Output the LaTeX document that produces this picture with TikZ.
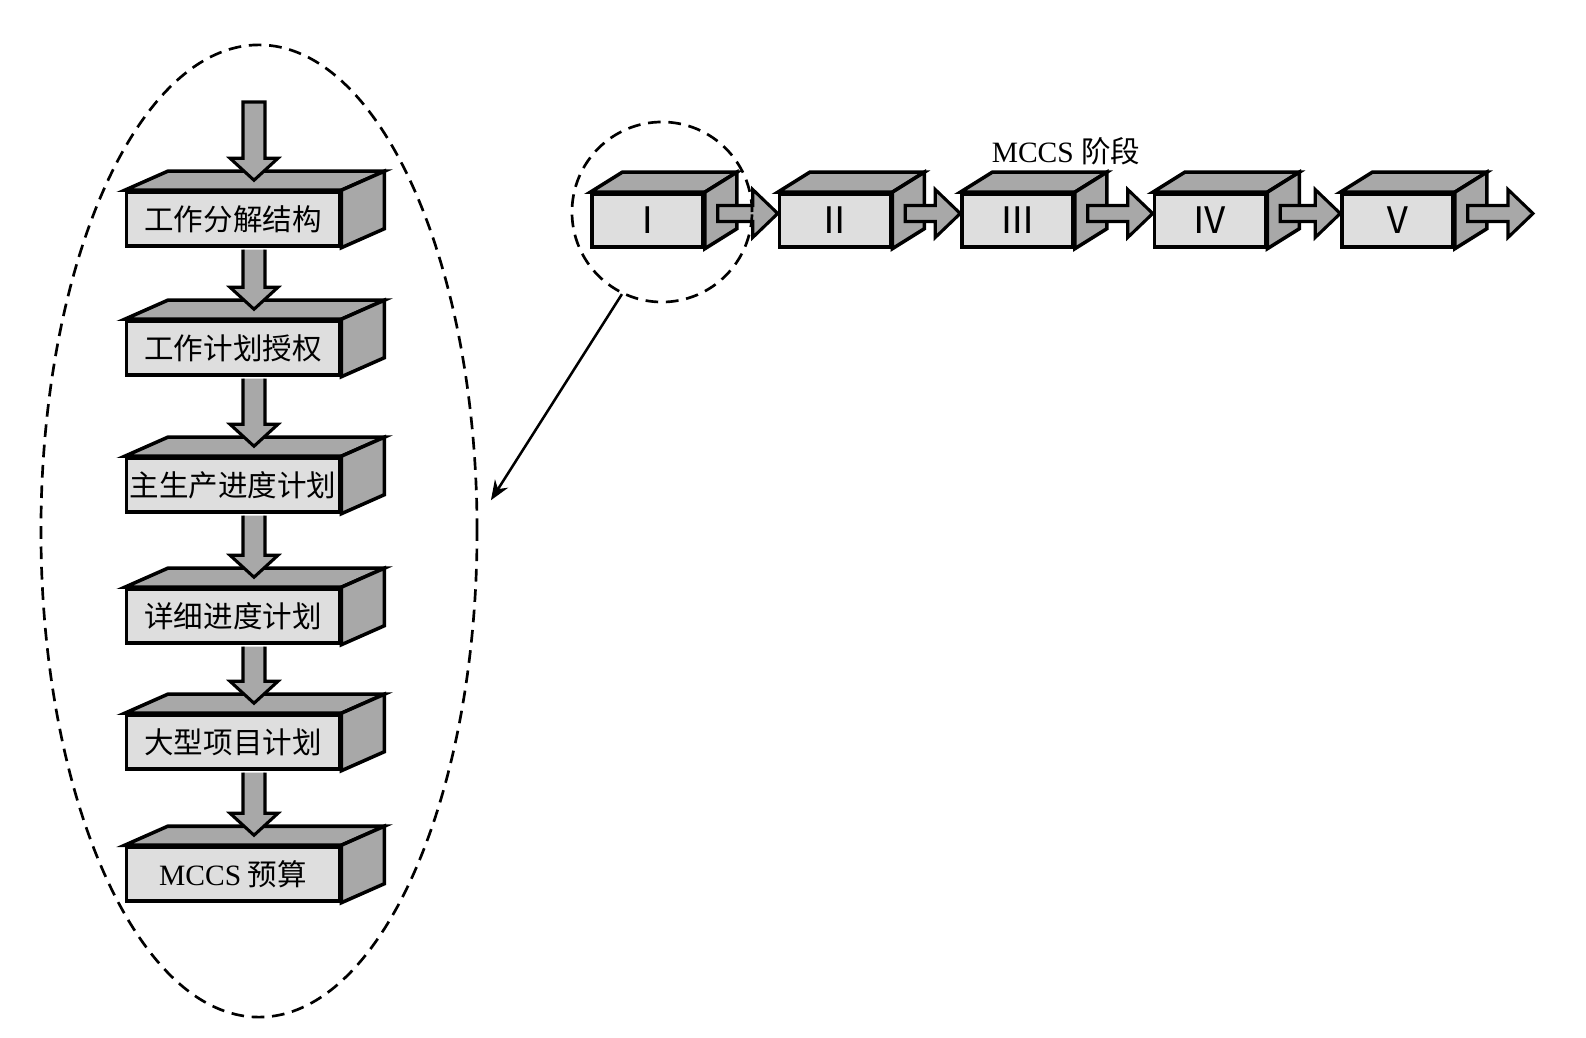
\documentclass[tikz,border=0pt]{standalone}
\usepackage{fontspec}
\setmainfont{Liberation Serif}
\newfontfamily\cjk{Noto Sans CJK SC}
\usetikzlibrary{positioning,shapes,calc,arrows.meta}

\tikzset{
  front/.style={draw, line width=2.5pt, fill=black!13, inner sep=0pt, line join=miter},
  leftbox/.style={front, minimum width=5.325cm, minimum height=1.35cm,
    font=\cjk\fontsize{21}{21}\selectfont},
  rightbox/.style={front, minimum width=2.775cm, minimum height=1.325cm,
    font=\cjk\fontsize{26}{26}\selectfont},
  face/.style={draw, line width=2.5pt, fill=black!34, line join=miter},
  blk/.style={draw, line width=2.2pt, fill=black!34, line join=miter},
  ring/.style={draw, dash pattern=on 9pt off 5.5pt, line width=1.9pt, inner sep=0pt}
}

% block arrows: #1 start coordinate, #2 tip coordinate
\newcommand\vblk[2]{\filldraw[blk] ($(#2|-#1)+(-11,0)$) -- ($(#2)+(-11,-22)$)
  -- ($(#2)+(-24,-22)$) -- (#2) -- ($(#2)+(24,-22)$) -- ($(#2)+(11,-22)$)
  -- ($(#2|-#1)+(11,0)$);}
\newcommand\hblk[2]{\filldraw[blk] ($(#1|-#2)+(0,-8)$) -- ($(#2)+(-25,-8)$)
  -- ($(#2)+(-25,-24)$) -- (#2) -- ($(#2)+(-25,24)$) -- ($(#2)+(-25,8)$)
  -- ($(#1|-#2)+(0,8)$) -- cycle;}

\begin{document}
\begin{tikzpicture}[x=0.025cm,y=-0.025cm]
  \useasboundingbox (0,0) rectangle (1586,1038);

  % left column
  \node[leftbox] (w1) at (233,219) {工作分解结构};
  \node[leftbox] (w2) at (233,348) {工作计划授权};
  \node[leftbox] (w3) at (233,485) {主生产进度计划};
  \node[leftbox] (w4) at (233,616) {详细进度计划};
  \node[leftbox] (w5) at (233,742) {大型项目计划};
  \node[leftbox] (w6) at (233,874) {\textrm{MCCS} 预算};
  \foreach \n in {w1,w2,w3,w4,w5,w6}{
    \filldraw[face] (\n.north west) -- ++(43,-19) -- ($(\n.north east)+(43,-19)$)
      -- (\n.north east) -- cycle;
    \filldraw[face] (\n.north east) -- ($(\n.north east)+(43,-19)$)
      -- ($(\n.south east)+(43,-19)$) -- (\n.south east) -- cycle;
  }

  % stages
  \node[rightbox] (p1) at (647.5,220.5) {Ⅰ};
  \node[rightbox] (p2) at (835,220.5) {Ⅱ};
  \node[rightbox] (p3) at (1017.5,220.5) {Ⅲ};
  \node[rightbox] (p4) at (1210,220.5) {Ⅳ};
  \node[rightbox] (p5) at (1397.5,220.5) {Ⅴ};
  \foreach \n in {p1,p2,p3,p4,p5}{
    \filldraw[face] (\n.north west) -- ++(32,-20) -- ($(\n.north east)+(32,-20)$)
      -- (\n.north east) -- cycle;
    \filldraw[face] (\n.north east) -- ($(\n.north east)+(32,-20)$)
      -- ($(\n.south east)+(32,-20)$) -- (\n.south east) -- cycle;
  }
  \node[font=\fontsize{21}{21}\selectfont] (stage) at (1066,151) {MCCS {\cjk 阶段}};

  % arrows down the column
  \coordinate (top) at (254,102);
  \coordinate (t0) at ($(w1.north)+(21,-10)$);
  \filldraw[blk] ($(t0|-top)+(-11,0)$) -- ($(t0)+(-11,-22)$) -- ($(t0)+(-24,-22)$)
    -- (t0) -- ($(t0)+(24,-22)$) -- ($(t0)+(11,-22)$) -- ($(t0|-top)+(11,0)$) -- cycle;
  \foreach \i/\j in {1/2,2/3,3/4,4/5,5/6}{
    \coordinate (s\i) at ($(w\i.south)+(21,1.8)$);
    \coordinate (t\i) at ($(w\j.north)+(21,-10)$);
    \vblk{s\i}{t\i}
  }

  % arrows along the stages
  \foreach \i/\j in {1/2,2/3,3/4,4/5}{
    \coordinate (u\i) at ($(p\i.east)+(13,0)$);
    \coordinate (v\i) at ($(p\j.west)+(0,-7)$);
    \hblk{u\i}{v\i}
  }
  \coordinate (u5) at ($(p5.east)+(13,0)$);
  \coordinate (v5) at (1533,213.5);
  \hblk{u5}{v5}

  % dashed outlines and pointer
  \node[ring, ellipse, minimum width=10.9cm, minimum height=24.3cm] (oval) at (259,531) {};
  \node[ring, circle, minimum size=4.5cm] (zoomc) at (662,212) {};
  \draw[line width=1.8pt, -{Stealth[length=14pt,width=11pt]}] (zoomc.244)
    -- ($(oval.8)+(13,0)$);
\end{tikzpicture}
\end{document}
